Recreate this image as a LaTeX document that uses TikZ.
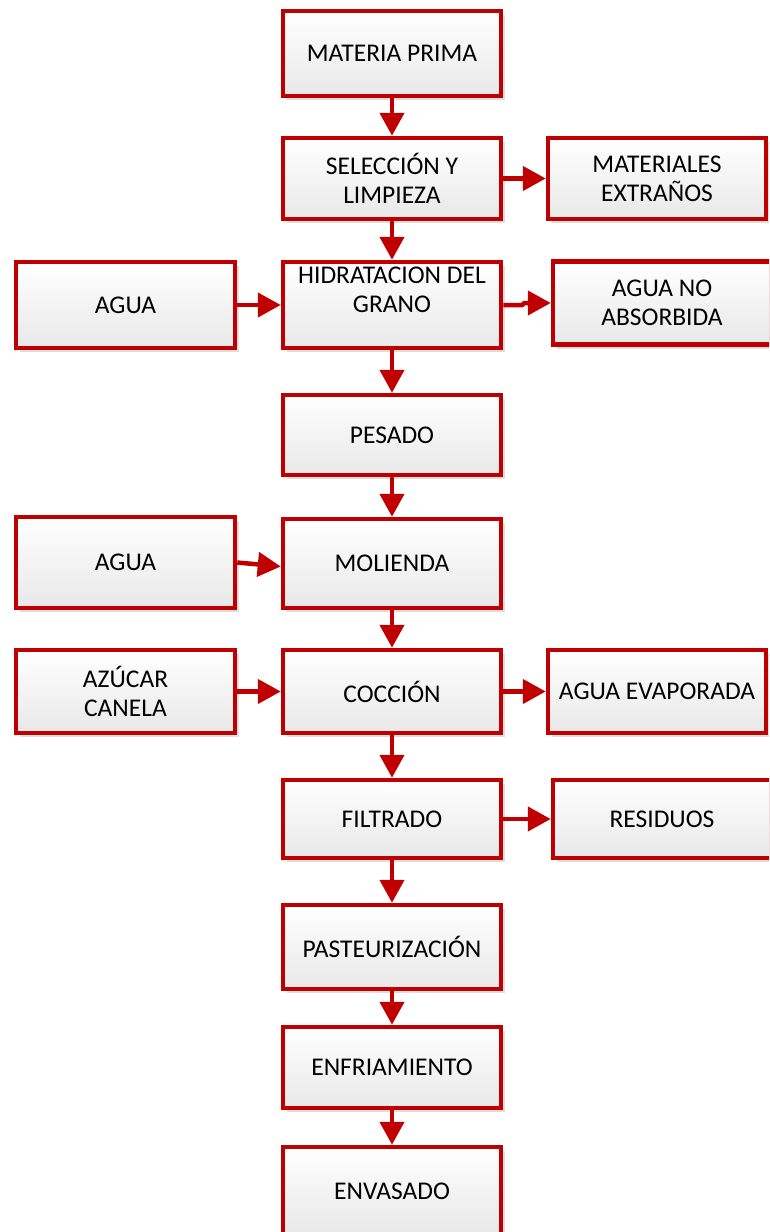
\documentclass[tikz,border=0pt]{standalone}
\usepackage{fontspec}
\setmainfont{Carlito}
\usetikzlibrary{arrows.meta,shadows}
\definecolor{bred}{HTML}{C00000}
\tikzset{
  box/.style={draw=bred, line width=4.5pt, top color=white, bottom color=black!9,
    minimum width=218pt, align=center, inner sep=0pt,
    font=\fontsize{25.5}{29}\selectfont,
    drop shadow={shadow xshift=4pt, shadow yshift=-4pt, fill=black!13, opacity=1}},
  lbl/.style={align=center, inner sep=0pt, font=\fontsize{25.5}{29.5}\selectfont},
  arr/.style={draw=bred, line width=4.5pt, -{Triangle[width=24pt,length=23pt]}}
}
\begin{document}
\begin{tikzpicture}[x=1pt,y=-1pt]
\path[use as bounding box] (0,0) rectangle (769,1232);
\clip (0,0) rectangle (769,1232);
% central column
\node[box, minimum height=85pt] (mp)  at (392,53.5)  {MATERIA PRIMA};
\node[box, minimum height=81pt] (sel) at (392,178.5) {SELECCIÓN Y\\LIMPIEZA};
\node[box, minimum height=86pt] (hid) at (392,305)   {};
\node[lbl] (hidt) at ([yshift=15pt]hid.center) {HIDRATACION DEL\\GRANO};
\node[box, minimum height=80pt] (pes) at (392,435)   {PESADO};
\node[box, minimum height=89pt] (mol) at (392,563.5) {MOLIENDA};
\node[box, minimum height=83pt] (coc) at (392,691.5) {COCCIÓN};
\node[box, minimum height=78pt] (fil) at (392,819)   {FILTRADO};
\node[box, minimum height=84pt] (pas) at (392,947)   {PASTEURIZACIÓN};
\node[box, minimum height=81pt] (enf) at (392,1067.5){ENFRIAMIENTO};
\node[box, minimum height=88pt] (env) at (392,1191)  {ENVASADO};
% right column
\node[box, minimum height=81pt] (mat) at (657,178.5) {MATERIALES\\EXTRAÑOS};
\node[box, minimum height=83pt] (anb) at (662,303)   {AGUA NO\\ABSORBIDA};
\node[box, minimum height=83pt] (eva) at (657,691.5) {AGUA EVAPORADA};
\node[box, minimum height=78pt] (res) at (662,819)   {RESIDUOS};
% left column
\node[box, minimum width=219pt, minimum height=86pt] (ag1) at (125.5,305)   {AGUA};
\node[box, minimum width=219pt, minimum height=91pt] (ag2) at (125.5,562.5) {AGUA};
\node[box, minimum width=219pt, minimum height=83pt] (azu) at (125.5,691.5) {AZÚCAR\\CANELA};
% connectors
\draw[arr] (mp) -- (sel);
\draw[arr] (sel) -- (hid);
\draw[arr] (hid) -- (pes);
\draw[arr] (pes) -- (mol);
\draw[arr] (mol) -- (coc);
\draw[arr] (coc) -- (fil);
\draw[arr] (fil) -- (pas);
\draw[arr] (pas) -- (enf);
\draw[arr] (enf) -- (env);
\draw[arr] (sel) -- (mat);
\draw[arr] (hid.east) -- ++(19,0) -- ++(2,-2) -- (anb.west);
\draw[arr] (coc) -- (eva);
\draw[arr] (fil) -- (res);
\draw[arr] (ag1) -- (hid);
\draw[arr] (ag2.east) -- ([yshift=-3pt]mol.west);
\draw[arr] (azu) -- (coc);
\end{tikzpicture}
\end{document}
